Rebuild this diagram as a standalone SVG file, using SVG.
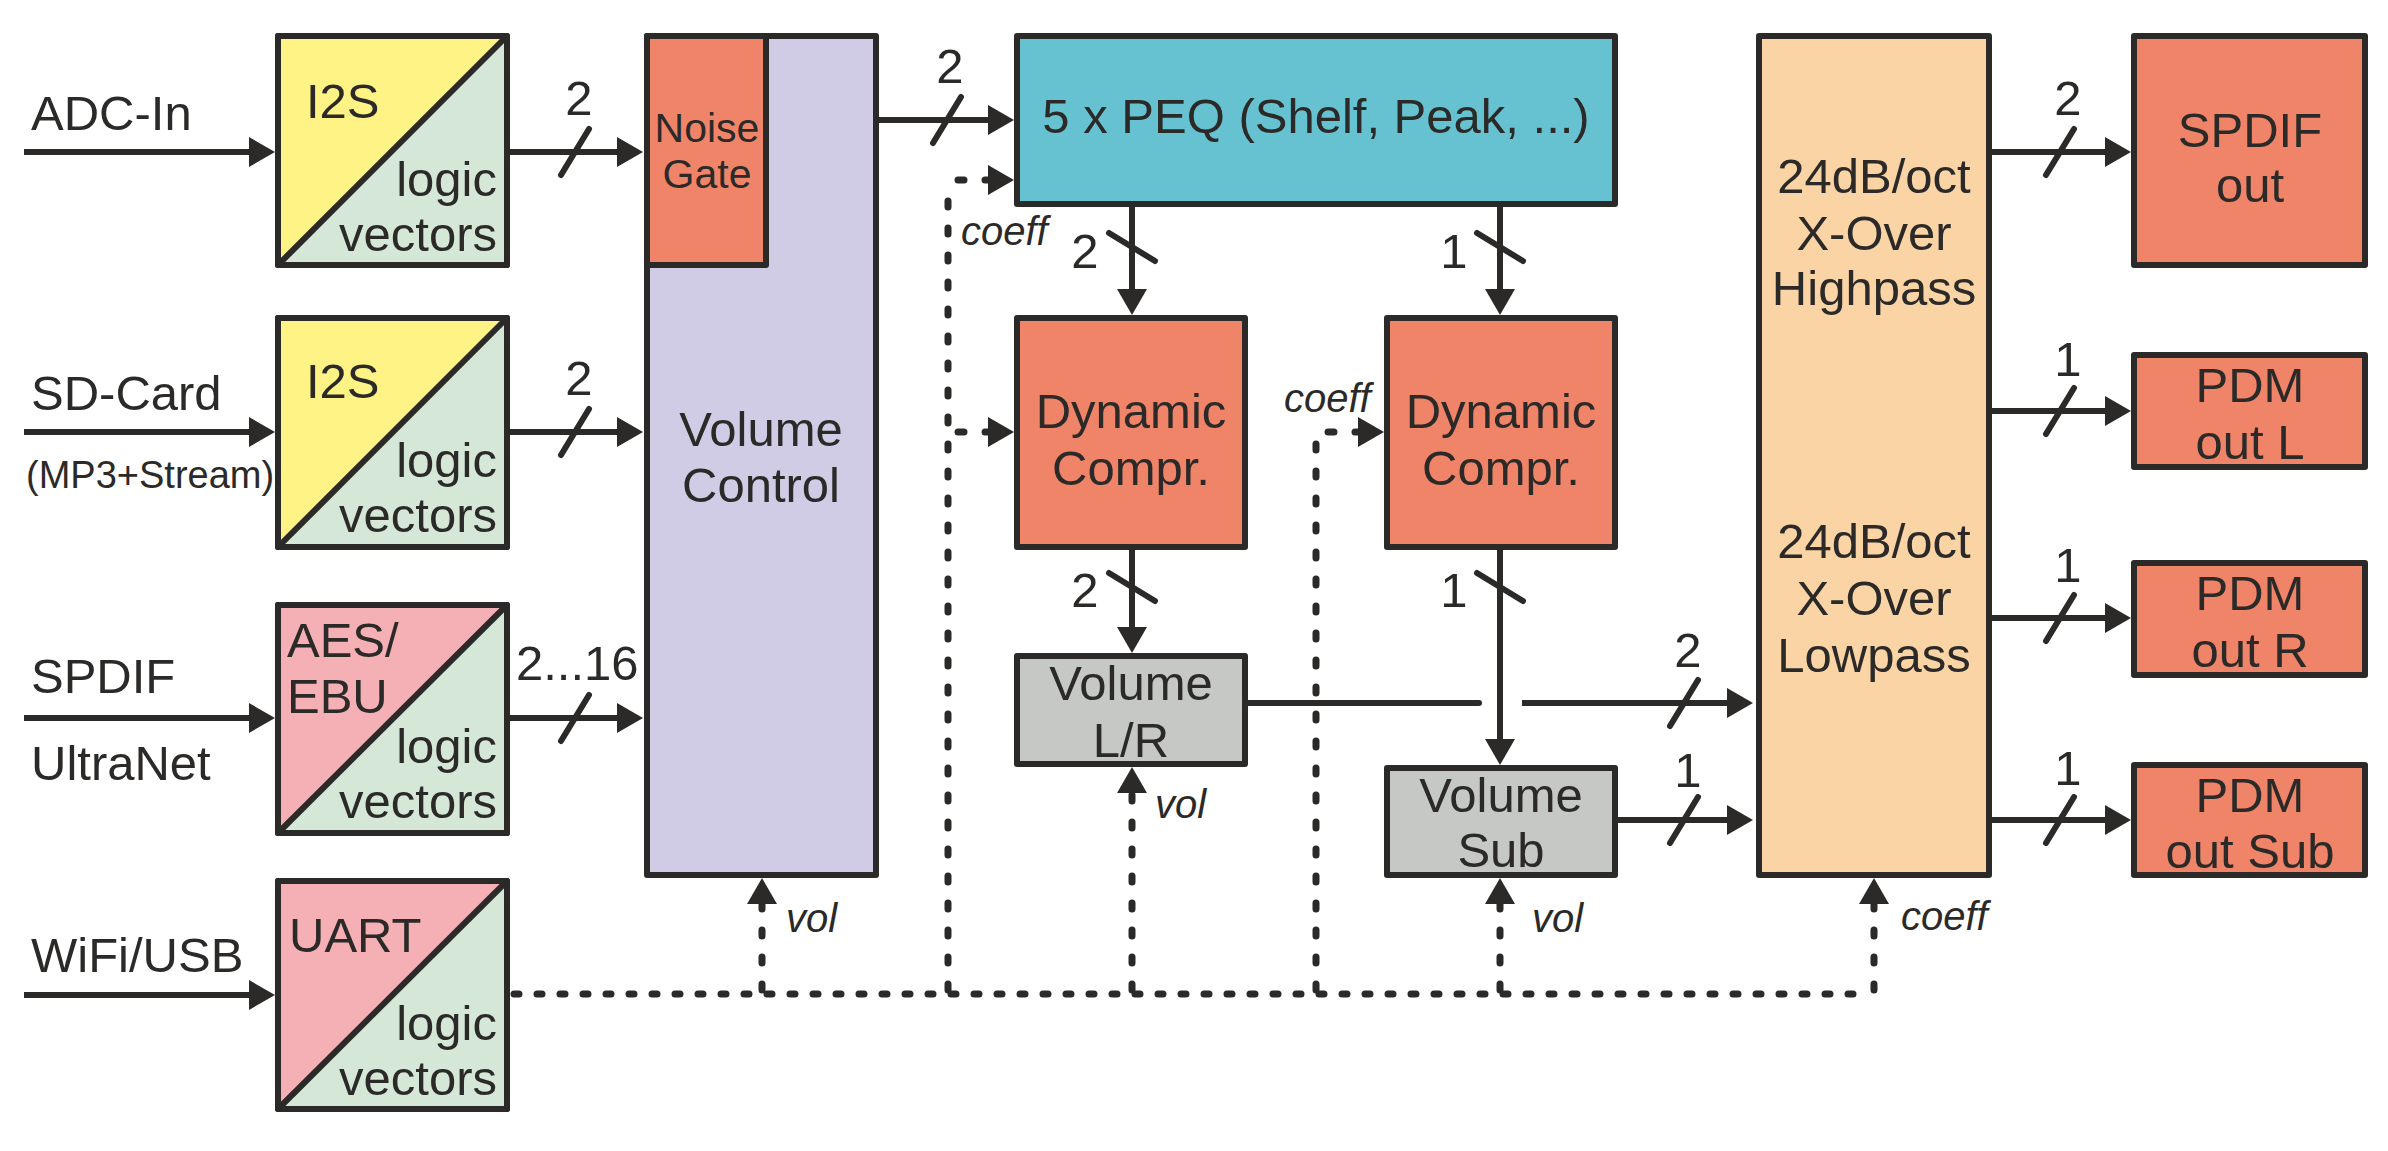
<svg xmlns="http://www.w3.org/2000/svg" width="2388" height="1151" viewBox="0 0 2388 1151">
<defs>
<style>
text{font-family:"Liberation Sans",Arial,sans-serif;fill:#2b2a28;font-size:49px}
.sm{font-size:38px}
.ng{font-size:41px}
.it{font-style:italic;font-size:40px}
.mid{text-anchor:middle}
.end{text-anchor:end}
.box{stroke:#2b2a28;stroke-width:6;stroke-linejoin:round}
.ln{fill:none;stroke:#2b2a28;stroke-width:6}
.sl{fill:none;stroke:#2b2a28;stroke-width:6;stroke-linecap:round}
.dv{fill:none;stroke:#2b2a28;stroke-width:7;stroke-linecap:round;stroke-dasharray:6 21}
.dh{fill:none;stroke:#2b2a28;stroke-width:7;stroke-linecap:round;stroke-dasharray:5 18}
</style>
<marker id="arr" markerUnits="userSpaceOnUse" markerWidth="27" markerHeight="30" refX="1" refY="15" orient="auto">
<path d="M0,0 L26,15 L0,30 z" fill="#2b2a28"/>
</marker>
</defs>
<rect width="2388" height="1151" fill="#ffffff"/>

<g id="in-labels">
<text x="31" y="130">ADC-In</text>
<text x="31" y="410">SD-Card</text>
<text x="26" y="488" class="sm">(MP3+Stream)</text>
<text x="31" y="693">SPDIF</text>
<text x="31" y="780">UltraNet</text>
<text x="31" y="972">WiFi/USB</text>
</g>

<g id="i2s-adc">
<rect class="box" x="278" y="36" width="229" height="229" fill="#fff385"/>
<polygon points="278,265 507,36 507,265" fill="#d5e8d8"/>
<rect class="box" x="278" y="36" width="229" height="229" fill="none"/>
<line class="ln" x1="278" y1="265" x2="507" y2="36"/>
<text x="306" y="118">I2S</text>
<text x="497" y="196" class="end">logic</text>
<text x="497" y="251" class="end">vectors</text>
</g>

<g id="i2s-sd">
<rect class="box" x="278" y="318" width="229" height="229" fill="#fff385"/>
<polygon points="278,547 507,318 507,547" fill="#d5e8d8"/>
<rect class="box" x="278" y="318" width="229" height="229" fill="none"/>
<line class="ln" x1="278" y1="547" x2="507" y2="318"/>
<text x="306" y="398">I2S</text>
<text x="497" y="477" class="end">logic</text>
<text x="497" y="532" class="end">vectors</text>
</g>

<g id="aes-ebu">
<rect class="box" x="278" y="605" width="229" height="228" fill="#f4b0b4"/>
<polygon points="278,833 507,605 507,833" fill="#d5e8d8"/>
<rect class="box" x="278" y="605" width="229" height="228" fill="none"/>
<line class="ln" x1="278" y1="833" x2="507" y2="605"/>
<text x="287" y="657">AES/</text>
<text x="287" y="713">EBU</text>
<text x="497" y="763" class="end">logic</text>
<text x="497" y="818" class="end">vectors</text>
</g>

<g id="uart">
<rect class="box" x="278" y="881" width="229" height="228" fill="#f4b0b4"/>
<polygon points="278,1109 507,881 507,1109" fill="#d5e8d8"/>
<rect class="box" x="278" y="881" width="229" height="228" fill="none"/>
<line class="ln" x1="278" y1="1109" x2="507" y2="881"/>
<text x="289" y="952">UART</text>
<text x="497" y="1040" class="end">logic</text>
<text x="497" y="1095" class="end">vectors</text>
</g>

<g id="volume-control">
<rect class="box" x="647" y="36" width="229" height="839" fill="#d0cce6"/>
<text x="761" y="446" class="mid">Volume</text>
<text x="761" y="502" class="mid">Control</text>
</g>

<g id="noise-gate">
<rect class="box" x="647" y="36" width="119" height="229" fill="#f08468"/>
<text x="707" y="142" class="mid ng">Noise</text>
<text x="707" y="188" class="mid ng">Gate</text>
</g>

<g id="peq">
<rect class="box" x="1017" y="36" width="598" height="168" fill="#66c2d0"/>
<text x="1316" y="133" class="mid">5 x PEQ (Shelf, Peak, ...)</text>
</g>

<g id="dyn-compr-lr">
<rect class="box" x="1017" y="318" width="228" height="229" fill="#f08468"/>
<text x="1131" y="428" class="mid">Dynamic</text>
<text x="1131" y="485" class="mid">Compr.</text>
</g>

<g id="dyn-compr-sub">
<rect class="box" x="1387" y="318" width="228" height="229" fill="#f08468"/>
<text x="1501" y="428" class="mid">Dynamic</text>
<text x="1501" y="485" class="mid">Compr.</text>
</g>

<g id="volume-lr">
<rect class="box" x="1017" y="656" width="228" height="108" fill="#c6c8c6"/>
<text x="1131" y="700" class="mid">Volume</text>
<text x="1131" y="757" class="mid">L/R</text>
</g>

<g id="volume-sub">
<rect class="box" x="1387" y="768" width="228" height="107" fill="#c6c8c6"/>
<text x="1501" y="812" class="mid">Volume</text>
<text x="1501" y="867" class="mid">Sub</text>
</g>

<g id="crossover">
<rect class="box" x="1759" y="36" width="230" height="839" fill="#fbd4a6"/>
<text x="1874" y="193" class="mid">24dB/oct</text>
<text x="1874" y="250" class="mid">X-Over</text>
<text x="1874" y="305" class="mid">Highpass</text>
<text x="1874" y="558" class="mid">24dB/oct</text>
<text x="1874" y="615" class="mid">X-Over</text>
<text x="1874" y="672" class="mid">Lowpass</text>
</g>

<g id="spdif-out">
<rect class="box" x="2134" y="36" width="231" height="229" fill="#f08468"/>
<text x="2250" y="147" class="mid">SPDIF</text>
<text x="2250" y="202" class="mid">out</text>
</g>

<g id="pdm-l">
<rect class="box" x="2134" y="355" width="231" height="112" fill="#f08468"/>
<text x="2250" y="402" class="mid">PDM</text>
<text x="2250" y="459" class="mid">out L</text>
</g>

<g id="pdm-r">
<rect class="box" x="2134" y="563" width="231" height="112" fill="#f08468"/>
<text x="2250" y="610" class="mid">PDM</text>
<text x="2250" y="667" class="mid">out R</text>
</g>

<g id="pdm-sub">
<rect class="box" x="2134" y="765" width="231" height="110" fill="#f08468"/>
<text x="2250" y="812" class="mid">PDM</text>
<text x="2250" y="868" class="mid">out Sub</text>
</g>

<g id="connectors">
<path class="ln" d="M24,152 H250" marker-end="url(#arr)"/>
<path class="ln" d="M24,432 H250" marker-end="url(#arr)"/>
<path class="ln" d="M24,718 H250" marker-end="url(#arr)"/>
<path class="ln" d="M24,995 H250" marker-end="url(#arr)"/>
<path class="ln" d="M510,152 H618" marker-end="url(#arr)"/>
<path class="ln" d="M510,432 H618" marker-end="url(#arr)"/>
<path class="ln" d="M510,718 H618" marker-end="url(#arr)"/>
<path class="ln" d="M879,120 H989" marker-end="url(#arr)"/>
<path class="ln" d="M1132,207 V290" marker-end="url(#arr)"/>
<path class="ln" d="M1500,207 V290" marker-end="url(#arr)"/>
<path class="ln" d="M1132,550 V628" marker-end="url(#arr)"/>
<path class="ln" d="M1500,550 V740" marker-end="url(#arr)"/>
<path class="sl" d="M1248,703 H1479"/>
<path class="ln" d="M1522,703 H1728" marker-end="url(#arr)"/>
<path class="ln" d="M1618,820 H1728" marker-end="url(#arr)"/>
<path class="ln" d="M1992,152 H2106" marker-end="url(#arr)"/>
<path class="ln" d="M1992,411 H2106" marker-end="url(#arr)"/>
<path class="ln" d="M1992,618 H2106" marker-end="url(#arr)"/>
<path class="ln" d="M1992,820 H2106" marker-end="url(#arr)"/>

<path class="dh" d="M514,994 H1870"/>
<path class="dv" d="M762,990 V903" marker-end="url(#arr)"/>
<path class="dv" d="M948,990 V182"/>
<path class="dv" d="M958,180 H989" marker-end="url(#arr)"/>
<path class="dv" d="M958,432 H989" marker-end="url(#arr)"/>
<path class="dv" d="M1132,990 V792" marker-end="url(#arr)"/>
<path class="dv" d="M1316,990 V436"/>
<path class="dv" d="M1328,432 H1359" marker-end="url(#arr)"/>
<path class="dv" d="M1500,990 V903" marker-end="url(#arr)"/>
<path class="dv" d="M1874,990 V903" marker-end="url(#arr)"/>

<path class="sl" d="M561,175 L589,129 M561,455 L589,409 M561,741 L589,695 M933,143 L961,97 M1670,726 L1698,680 M1670,843 L1698,797 M2046,175 L2074,129 M2046,434 L2074,388 M2046,641 L2074,595 M2046,843 L2074,797"/>
<path class="sl" d="M1109,233 L1155,261 M1477,233 L1523,261 M1109,573 L1155,601 M1477,573 L1523,601"/>

<text x="579" y="115" class="mid">2</text>
<text x="579" y="395" class="mid">2</text>
<text x="516" y="680">2...16</text>
<text x="950" y="83" class="mid">2</text>
<text x="1085" y="268" class="mid">2</text>
<text x="1454" y="268" class="mid">1</text>
<text x="1085" y="607" class="mid">2</text>
<text x="1454" y="607" class="mid">1</text>
<text x="1688" y="667" class="mid">2</text>
<text x="1688" y="787" class="mid">1</text>
<text x="2068" y="115" class="mid">2</text>
<text x="2068" y="376" class="mid">1</text>
<text x="2068" y="582" class="mid">1</text>
<text x="2068" y="785" class="mid">1</text>
<text x="961" y="245" class="it">coeff</text>
<text x="1284" y="412" class="it">coeff</text>
<text x="1901" y="930" class="it">coeff</text>
<text x="786" y="932" class="it">vol</text>
<text x="1155" y="818" class="it">vol</text>
<text x="1532" y="932" class="it">vol</text>
</g>
</svg>
